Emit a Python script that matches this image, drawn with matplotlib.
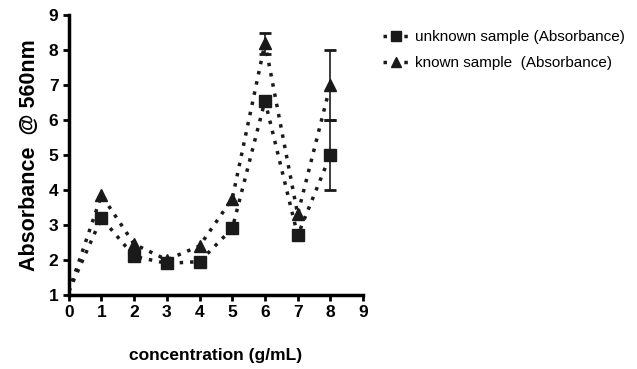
import matplotlib
matplotlib.use('Agg')
import matplotlib.pyplot as plt
from matplotlib.lines import Line2D
import numpy as np

plt.rcParams['font.family'] = ['Liberation Sans', 'DejaVu Sans']

conc = [0, 1, 2, 3, 4, 5, 6, 7, 8]
unknown = [1.1, 3.2, 2.1, 1.9, 1.95, 2.9, 6.55, 2.7, 5.0]
unknown_err = [0, 0, 0, 0, 0, 0, 0, 0, 1.0]
known = [1.1, 3.85, 2.45, 2.0, 2.4, 3.75, 8.2, 3.3, 7.0]
known_err = [0, 0, 0, 0, 0, 0, 0.3, 0, 1.0]

fig = plt.figure(figsize=(6.37, 3.69), dpi=100)
ax = fig.add_axes([0.108, 0.201, 0.462, 0.758])

dots = (0, (1, 2))
col = '#1a1a1a'
series = [(unknown, unknown_err, 's', 'unknown sample (Absorbance)'),
          (known, known_err, '^', 'known sample  (Absorbance)')]
handles = []
for vals, err, mk, lab in series:
    ax.plot(conc, vals, color=col, linestyle=dots, linewidth=2.5,
            marker=mk, markersize=8, markevery=list(range(1, len(conc))))
    x = np.array(conc)
    v = np.array(vals)
    e = np.array(err)
    m = e > 0
    ax.errorbar(x[m], v[m], yerr=e[m], fmt='none', ecolor=col, capsize=4,
                elinewidth=1.2, capthick=2)
    handles.append(Line2D([], [], color=col, linestyle=dots, linewidth=2.5,
                          marker=mk, markersize=7, label=lab))

ax.set_xlim(0, 9)
ax.set_ylim(1, 9)
ax.set_xticks(range(0, 10))
ax.set_yticks(range(1, 10))
for s in ['top', 'right']:
    ax.spines[s].set_visible(False)
for s in ['left', 'bottom']:
    ax.spines[s].set_linewidth(2.5)
ax.tick_params(direction='out', width=2, length=4, labelsize=12.5)
for lbl in ax.get_xticklabels() + ax.get_yticklabels():
    lbl.set_fontweight('bold')

ax.set_xlabel('concentration (g/mL)', fontsize=12.5, fontweight='bold', labelpad=20)
ax.set_ylabel('Absorbance  @ 560nm', fontsize=15.5, fontweight='bold', labelpad=6)

ax.legend(handles=handles, loc='upper left', bbox_to_anchor=(1.02, 0.995), frameon=False,
          fontsize=11, handlelength=1.8, handletextpad=0.3, labelspacing=0.8)

fig.savefig('out.png', dpi=100)
